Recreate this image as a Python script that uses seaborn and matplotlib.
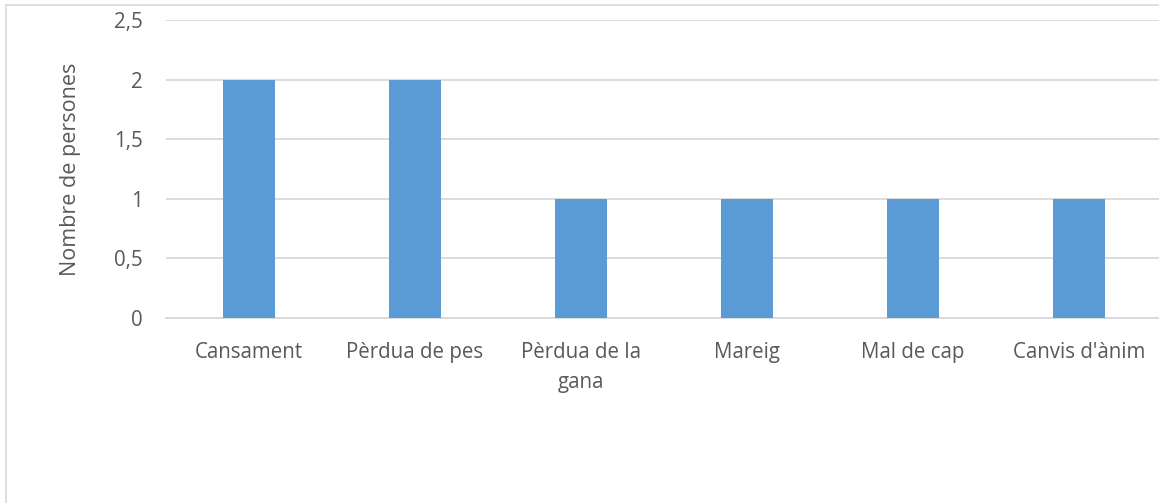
import matplotlib
matplotlib.use("Agg")
import matplotlib.pyplot as plt
import seaborn as sns
import pandas as pd
from matplotlib.patches import Rectangle

categories = ["Cansament", "Pèrdua de pes", "Pèrdua de la\ngana", "Mareig", "Mal de cap", "Canvis d'ànim"]
values = [2, 2, 1, 1, 1, 1]
yticks = [0, 0.5, 1, 1.5, 2, 2.5]
yticklabels = ["0", "0,5", "1", "1,5", "2", "2,5"]

sns.set_style("white")
plt.rcParams['font.family'] = ['Open Sans', 'DejaVu Sans']

W, H = 1159, 503
fig = plt.figure(figsize=(W / 100, H / 100), dpi=100)
ax = fig.add_axes([166 / W, 1 - 318 / H, (1162 - 166) / W, (318 - 20) / H])

df = pd.DataFrame({"cat": categories, "val": values})
sns.barplot(data=df, x="cat", y="val", color="#5B9BD5", saturation=1, width=0.31,
            linewidth=0, ax=ax, zorder=3)

ax.set_ylim(0, 2.5)
ax.set_xlim(-0.5, len(categories) - 0.5)
ax.set_yticks(yticks)
ax.set_yticklabels(yticklabels)
ax.yaxis.grid(True, color="#D9D9D9", linewidth=1.3, zorder=0)
ax.set_axisbelow(True)
for s in ["top", "right", "left"]:
    ax.spines[s].set_visible(False)
ax.spines["bottom"].set_color("#D9D9D9")
ax.spines["bottom"].set_linewidth(1.3)
ax.tick_params(axis="both", length=0, colors="#595959", labelsize=14.8)
ax.tick_params(axis="y", pad=16.5)
ax.tick_params(axis="x", pad=17)
ax.set_xlabel("")
ax.set_ylabel("Nombre de persones", color="#595959", fontsize=15.5, labelpad=24)
for t in ax.get_xticklabels():
    t.set_linespacing(1.6)

fig.patches.append(Rectangle((5.5 / W, -0.1), 1.2, 1 - 5.5 / H + 0.1, transform=fig.transFigure,
                             fill=False, edgecolor="#D9D9D9", linewidth=1.2))

fig.savefig("out.png", dpi=100)
